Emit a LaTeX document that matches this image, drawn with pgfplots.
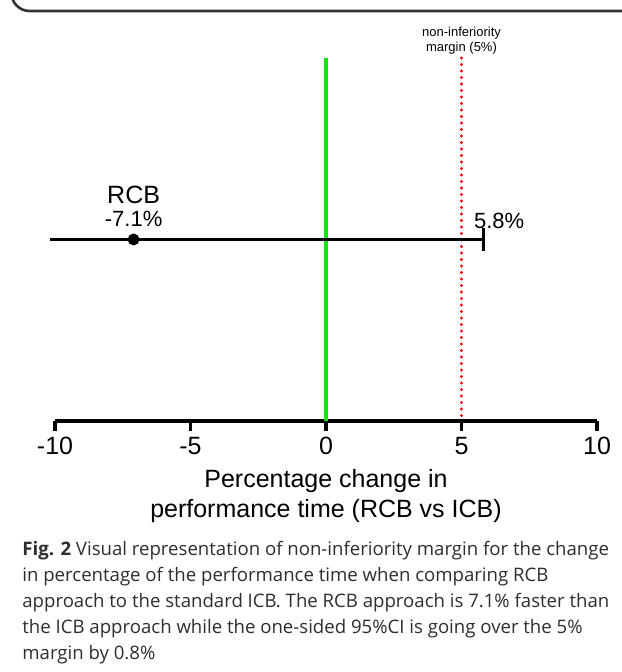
\documentclass[border=0pt]{standalone}
\usepackage{fontspec}
\setmainfont{Liberation Sans}
\newfontfamily\capfont{Open Sans}
\usepackage{pgfplots}
\pgfplotsset{compat=1.18}
\definecolor{lgreen}{RGB}{20,230,20}
\definecolor{capgray}{RGB}{45,45,45}
\begin{document}
\begin{tikzpicture}[x=0.5pt,y=0.5pt]
\useasboundingbox (0,0) rectangle (621,672);
\draw[line width=1.3pt, black!80, rounded corners=9pt] (11.5,700) -- (11.5,661) -- (640,661);
\begin{axis}[at={(27.5pt,125.5pt)}, anchor=south west, scale only axis,
  width=271pt, height=181.5pt,
  xmin=-10, xmax=10, ymin=0, ymax=1, clip=false,
  axis x line*=bottom, axis y line=none,
  x axis line style={-, line width=1.8pt},
  tick align=outside, major tick length=5pt,
  tick style={line width=1.8pt, black},
  xtick={-10,-5,0,5,10}, xticklabels={-10,-5,0,5,10},
  ytick=\empty,
  xticklabel style={font=\fontsize{12.5}{15}\selectfont, yshift=0.5pt},
  xlabel={Percentage change in\\performance time (RCB vs ICB)},
  xlabel style={at={(axis description cs:0.5,0)}, anchor=base, yshift=-48.5pt, align=center, font=\fontsize{12.5}{15}\selectfont},
]
\addplot[lgreen, line width=1.6pt] coordinates {(0,0) (0,1)};
\addplot[red, line width=1.5pt, line cap=round, dash pattern=on 0.1pt off 3.15pt] coordinates {(5,1) (5,0)};
\addplot[black, line width=1.5pt] coordinates {(-10.2,0.5) (5.8,0.5)};
\addplot[black, line width=1.5pt] coordinates {(5.8,0.468) (5.8,0.532)};
\addplot[black, only marks, mark=*, mark size=2.75pt] coordinates {(-7.1,0.5)};
\node[font=\fontsize{12.5}{15}\selectfont] at (axis cs:-7.1,0.623) {RCB};
\node[font=\fontsize{11}{13}\selectfont] at (axis cs:-7.1,0.556) {-7.1\%};
\node[font=\fontsize{11}{13}\selectfont, anchor=west, inner sep=0pt] at (axis cs:5.45,0.551) {5.8\%};
\node[font=\fontsize{6.5}{7.5}\selectfont, align=center, inner sep=0pt] at (axis cs:5,1.048) {non-inferiority\\margin (5\%)};
\end{axis}
\node[anchor=base west, align=left, inner sep=0pt, text=capgray, font=\capfont\fontsize{9.3}{13}\selectfont] at (22,12) {\textbf{Fig. 2} Visual representation of non-inferiority margin for the change\\in percentage of the performance time when comparing RCB\\approach to the standard ICB. The RCB approach is 7.1\% faster than\\the ICB approach while the one-sided 95\%CI is going over the 5\%\\margin by 0.8\%};
\end{tikzpicture}
\end{document}
